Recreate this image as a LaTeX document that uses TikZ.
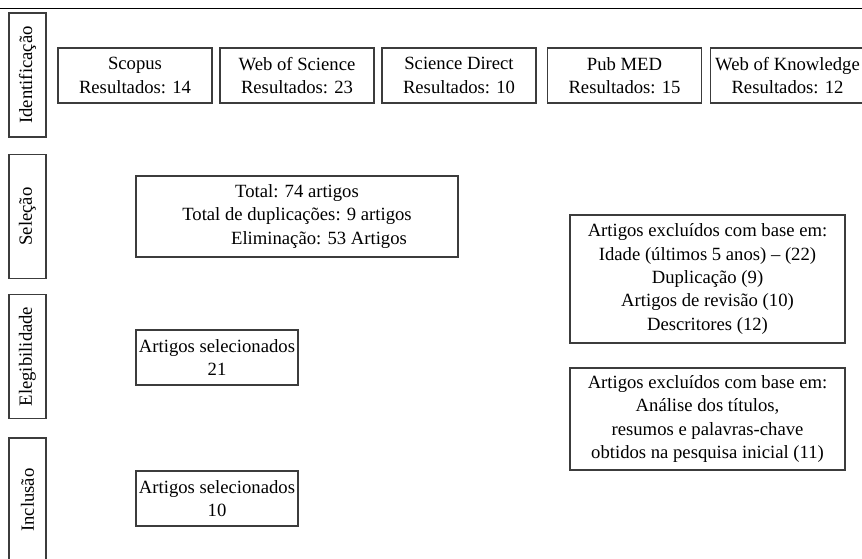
\documentclass[tikz,border=0pt]{standalone}
\usepackage{fontspec}
\setmainfont{Liberation Serif}
\usetikzlibrary{positioning}
\definecolor{linegray}{RGB}{60,60,60}
\tikzset{
  caixa/.style={
    draw=linegray,
    line width=0.8pt,
    align=center,
    inner sep=0pt,
    font=\fontsize{14}{17.5}\selectfont
  },
  base/.style={
    caixa,
    minimum width=115.5pt,
    minimum height=41.25pt
  },
  fase/.style={
    caixa,
    rotate=90,
    minimum width=93pt,
    minimum height=27.75pt
  },
  selbox/.style={
    caixa,
    minimum width=121.5pt,
    minimum height=41.25pt
  },
  exclbox/.style={
    caixa,
    minimum width=206.25pt
  }
}
\begin{document}
\begin{tikzpicture}[x=0.75pt,y=-0.75pt]
  \useasboundingbox (0,0) rectangle (862,559);
  \coordinate (topleft) at (0,8.5);
  \coordinate (topright) at (862,8.5);
  \draw[line width=1.1pt] (topleft) -- (topright);
  % fases
  \node[fase] (ident) at (27.5,75) {Identificação};
  \node[fase] (selec) at (27.5,216.5) {Seleção};
  \node[fase] (eleg) at (27.5,356.5) {Elegibilidade};
  \node[fase] (incl) at (27.5,500) {Inclusão};
  % bases de dados
  \node[base] (scopus) at (135,75.5) {Scopus\\Resultados: 14};
  \node[base] (wos) at (297,75.5) {Web of Science\\Resultados: 23};
  \node[base] (sd) at (459,75.5) {Science Direct\\Resultados: 10};
  \node[base] (pubmed) at (624.5,75.5) {Pub MED\\Resultados: 15};
  \node[base] (wok) at (787.5,75.5) {Web of Knowledge\\Resultados: 12};
  % triagem
  \node[caixa,minimum width=241.5pt,minimum height=60.75pt] (total) at (297,216.5)
    {Total: 74 artigos\\Total de duplicações: 9 artigos\\\hspace*{33pt}Eliminação: 53 Artigos};
  \node[selbox] (sel21) at (217,357.5) {Artigos selecionados\\21};
  \node[selbox] (sel10) at (217,498.5) {Artigos selecionados\\10};
  % exclusoes
  \node[exclbox,minimum height=96pt] (excl1) at (707.5,279)
    {Artigos excluídos com base em:\\Idade (últimos 5 anos) – (22)\\Duplicação (9)\\Artigos de revisão (10)\\Descritores (12)};
  \node[exclbox,minimum height=76.5pt] (excl2) at (707.5,419)
    {Artigos excluídos com base em:\\Análise dos títulos,\\resumos e palavras-chave\\obtidos na pesquisa inicial (11)};
\end{tikzpicture}
\end{document}
